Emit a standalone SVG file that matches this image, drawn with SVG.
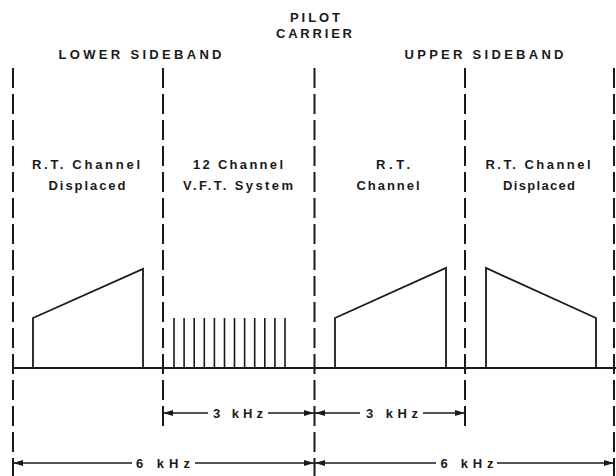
<svg xmlns="http://www.w3.org/2000/svg" width="616" height="476" viewBox="0 0 616 476">
<style>
.t{font-family:"Liberation Sans",Arial,sans-serif;font-weight:bold;font-size:13px;fill:#1a1a1a;text-anchor:middle}
.d{stroke:#1a1a1a;stroke-width:2;stroke-dasharray:20 6;fill:none}
.s{stroke:#1a1a1a;stroke-width:1.8;fill:none;stroke-linejoin:miter}
.p{stroke:#1a1a1a;stroke-width:1.6}
.a{stroke:#1a1a1a;stroke-width:1.4;fill:none}
</style>
<defs>
<marker id="ah" viewBox="0 0 10 6" refX="10" refY="3" markerWidth="10" markerHeight="6" markerUnits="userSpaceOnUse" orient="auto-start-reverse">
<path d="M0,0 L10,3 L0,6 Z" fill="#1a1a1a"/>
</marker>
</defs>
<rect width="616" height="476" fill="#ffffff"/>

<g id="boundaries">
<line class="d" x1="13" y1="68" x2="13" y2="476"/>
<line class="d" x1="163" y1="68" x2="163" y2="431"/>
<line class="d" x1="314.5" y1="68" x2="314.5" y2="476"/>
<line class="d" x1="465" y1="68" x2="465" y2="431"/>
<line class="d" x1="614" y1="68" x2="614" y2="476"/>
</g>

<g id="pilot-carrier">
<text class="t" x="315" y="22" textLength="50" lengthAdjust="spacing">PILOT</text>
<text class="t" x="314" y="38" textLength="76" lengthAdjust="spacing">CARRIER</text>
</g>
<g id="lower-sideband">
<text class="t" x="140" y="59" textLength="163" lengthAdjust="spacing">LOWER  SIDEBAND</text>
</g>
<g id="upper-sideband">
<text class="t" x="484" y="59" textLength="159" lengthAdjust="spacing">UPPER  SIDEBAND</text>
</g>

<g id="lower-rt-displaced">
<text class="t" x="86" y="169" textLength="108" lengthAdjust="spacing">R.T. Channel</text>
<text class="t" x="87" y="190" textLength="77" lengthAdjust="spacing">Displaced</text>
<path class="s" d="M33,368 L33,318 L143,269 L143,368"/>
</g>

<g id="vft-system">
<text class="t" x="238" y="169" textLength="90" lengthAdjust="spacing">12 Channel</text>
<text class="t" x="238" y="190" textLength="110" lengthAdjust="spacing">V.F.T.  System</text>
<g class="p">
<line x1="174" y1="318" x2="174" y2="368"/>
<line x1="184.1" y1="318" x2="184.1" y2="368"/>
<line x1="194.2" y1="318" x2="194.2" y2="368"/>
<line x1="204.3" y1="318" x2="204.3" y2="368"/>
<line x1="214.4" y1="318" x2="214.4" y2="368"/>
<line x1="224.5" y1="318" x2="224.5" y2="368"/>
<line x1="234.5" y1="318" x2="234.5" y2="368"/>
<line x1="244.6" y1="318" x2="244.6" y2="368"/>
<line x1="254.7" y1="318" x2="254.7" y2="368"/>
<line x1="264.8" y1="318" x2="264.8" y2="368"/>
<line x1="274.9" y1="318" x2="274.9" y2="368"/>
<line x1="285" y1="318" x2="285" y2="368"/>
</g>
</g>

<g id="upper-rt">
<text class="t" x="393" y="169" textLength="34" lengthAdjust="spacing">R.T.</text>
<text class="t" x="388" y="190" textLength="63" lengthAdjust="spacing">Channel</text>
<path class="s" d="M335,368 L335,318 L446,268 L446,368"/>
</g>

<g id="upper-rt-displaced">
<text class="t" x="538" y="169" textLength="105" lengthAdjust="spacing">R.T. Channel</text>
<text class="t" x="539" y="190" textLength="72" lengthAdjust="spacing">Displaced</text>
<path class="s" d="M486,368 L486,268 L596,318 L596,368"/>
</g>

<g id="baseline">
<line x1="13" y1="368" x2="616" y2="368" stroke="#1a1a1a" stroke-width="2"/>
</g>

<g id="connectors">
<line class="a" x1="208" y1="413" x2="163" y2="413" marker-end="url(#ah)"/>
<line class="a" x1="268" y1="413" x2="314" y2="413" marker-end="url(#ah)"/>
<line class="a" x1="360" y1="413" x2="315" y2="413" marker-end="url(#ah)"/>
<line class="a" x1="423" y1="413" x2="465" y2="413" marker-end="url(#ah)"/>
<line class="a" x1="132" y1="463" x2="13" y2="463" marker-end="url(#ah)"/>
<line class="a" x1="195" y1="463" x2="314" y2="463" marker-end="url(#ah)"/>
<line class="a" x1="436" y1="463" x2="315" y2="463" marker-end="url(#ah)"/>
<line class="a" x1="497" y1="463" x2="614" y2="463" marker-end="url(#ah)"/>
</g>
<g id="dimension-labels">
<text class="t" x="238" y="418" textLength="50" lengthAdjust="spacing">3  kHz</text>
<text class="t" x="392" y="418" textLength="52" lengthAdjust="spacing">3  kHz</text>
<text class="t" x="163" y="468" textLength="54" lengthAdjust="spacing">6  kHz</text>
<text class="t" x="467" y="468" textLength="53" lengthAdjust="spacing">6  kHz</text>
</g>
</svg>
